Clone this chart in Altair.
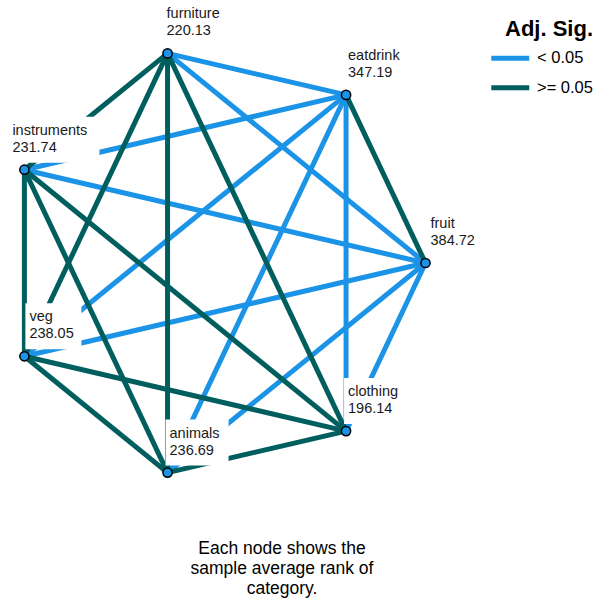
import math
import altair as alt
import pandas as pd

# ---- data ----
categories = ["fruit", "eatdrink", "furniture", "instruments", "veg", "animals", "clothing"]
ranks = [384.72, 347.19, 220.13, 231.74, 238.05, 236.69, 196.14]
edge_from = ["furniture", "furniture", "eatdrink", "eatdrink", "eatdrink", "eatdrink",
             "fruit", "fruit", "fruit", "fruit",
             "furniture", "furniture", "furniture", "furniture", "eatdrink",
             "clothing", "clothing", "clothing", "animals", "animals", "veg"]
edge_to = ["eatdrink", "fruit", "clothing", "animals", "veg", "instruments",
           "clothing", "animals", "veg", "instruments",
           "clothing", "animals", "veg", "instruments", "fruit",
           "animals", "veg", "instruments", "veg", "instruments", "instruments"]
edge_sig = ["< 0.05"] * 10 + [">= 0.05"] * 11
sig_levels = ["< 0.05", ">= 0.05"]
sig_colors = ["#1b93e6", "#005e5e"]
footnote = ["Each node shows the", "sample average rank of", "category."]

# ---- layout (regular heptagon) ----
W, H = 594, 600
CX, CY, RX, RY = 214.5, 263.0, 211.0, 215.0
n = len(categories)
pos = {}
for k, c in enumerate(categories):
    th = 2 * math.pi * k / n
    pos[c] = (CX + RX * math.cos(th), CY - RY * math.sin(th))

label_dx = {c: 2 for c in categories}
label_dx["instruments"] = -12
label_dx["veg"] = 5
label_dx["fruit"] = 5
label_dx["furniture"] = -1

nodes = pd.DataFrame({
    "category": categories,
    "rank": ranks,
    "x": [pos[c][0] for c in categories],
    "y": [pos[c][1] for c in categories],
})
nodes["rank_txt"] = nodes["rank"].map(lambda v: f"{v:.2f}")
nodes["lines"] = [[c, f"{r:.2f}"] for c, r in zip(categories, ranks)]
nodes["lx"] = nodes["x"] + nodes["category"].map(label_dx)
nodes["bx0"] = nodes["lx"] - 4
nodes["bx1"] = nodes["lx"] + 7 * nodes.apply(lambda r: max(len(r["category"]), len(r["rank_txt"])), axis=1) + 10
nodes["by0"] = nodes["y"] - 53
nodes["by1"] = nodes["y"] - 7

edges = pd.DataFrame({
    "x": [pos[a][0] for a in edge_from],
    "y": [pos[a][1] for a in edge_from],
    "x2": [pos[b][0] for b in edge_to],
    "y2": [pos[b][1] for b in edge_to],
    "sig": edge_sig,
})

xs = alt.Scale(domain=[0, W], nice=False, zero=False)
ys = alt.Scale(domain=[0, H], nice=False, zero=False, reverse=True)
FONT = "Liberation Sans"

edge_layer = alt.Chart(edges).mark_rule(strokeWidth=5).encode(
    x=alt.X("x:Q", scale=xs, axis=None),
    y=alt.Y("y:Q", scale=ys, axis=None),
    x2="x2:Q",
    y2="y2:Q",
    color=alt.Color(
        "sig:N",
        scale=alt.Scale(domain=sig_levels, range=sig_colors),
        legend=alt.Legend(
            title="Adj. Sig.",
            orient="none",
            legendX=502,
            legendY=19,
            symbolType="M-4,0H4",
            symbolStrokeWidth=5,
            symbolSize=90,
            labelFontSize=16.5,
            labelFont=FONT,
            labelColor="#000000",
            labelOffset=18.5,
            titleFontSize=22,
            titleFont=FONT,
            titleFontWeight="bold",
            titleColor="#000000",
            titleAnchor="end",
            titlePadding=9,
            rowPadding=8.5,
        ),
    ),
)

box_layer = alt.Chart(nodes).mark_rect(color="white").encode(
    x=alt.X("bx0:Q", scale=xs, axis=None),
    x2="bx1:Q",
    y=alt.Y("by0:Q", scale=ys, axis=None),
    y2="by1:Q",
)

label_layer = alt.Chart(nodes).mark_text(
    align="left", baseline="alphabetic", dy=-35, lineHeight=17,
    fontSize=14.5, font=FONT, color="#1a1a1a",
).encode(
    x=alt.X("lx:Q", scale=xs, axis=None),
    y=alt.Y("y:Q", scale=ys, axis=None),
    text="lines",
)

node_layer = alt.Chart(nodes).mark_point(
    shape="circle", filled=True, size=85, fill="#1b93e6", stroke="#000000",
    strokeWidth=1.5, opacity=1,
).encode(
    x=alt.X("x:Q", scale=xs, axis=None),
    y=alt.Y("y:Q", scale=ys, axis=None),
)

note_layer = alt.Chart(pd.DataFrame({"t": [footnote]})).mark_text(
    align="center", baseline="alphabetic", lineHeight=20, fontSize=17.5,
    font=FONT, color="#000000",
).encode(
    x=alt.value(282),
    y=alt.value(554),
    text="t",
)

chart = alt.layer(edge_layer, box_layer, label_layer, node_layer, note_layer).properties(
    width=W, height=H, padding=0,
    autosize=alt.AutoSizeParams(type="none"),
).configure_view(stroke=None)

chart.save("out.html", embed_options={"renderer": "svg", "actions": False})
